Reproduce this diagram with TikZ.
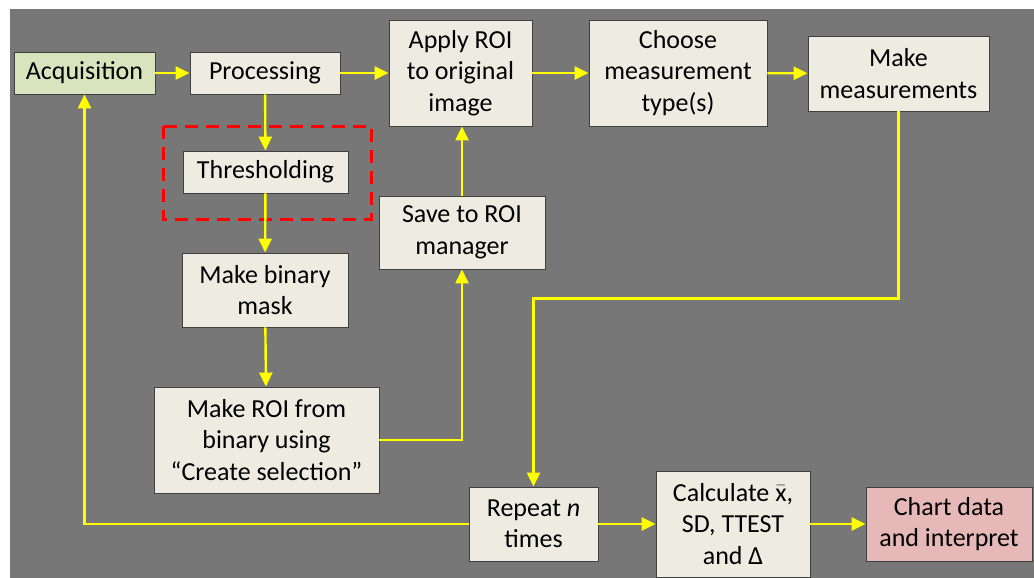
\documentclass[tikz,border=0pt]{standalone}
\usepackage{fontspec}
\setmainfont{Carlito}
\usetikzlibrary{arrows.meta}
\definecolor{slide}{RGB}{119,119,119}
\definecolor{boxfill}{RGB}{238,236,225}
\definecolor{acqfill}{RGB}{215,228,189}
\definecolor{chartfill}{RGB}{230,185,184}
\definecolor{arrowyellow}{RGB}{255,255,0}
\newcommand{\bx}[7]{
\node[#1, minimum width=#5pt-#3pt, minimum height=#6pt-#4pt] (#2) at ({(#3+#5)/2},{(#4+#6)/2}) {#7};
}
\newcommand{\xbar}{\ensuremath{\bar{\hbox{x}}}}
\tikzset{
stage/.style={draw=black!75, line width=0.9pt, fill=boxfill, align=center, inner sep=0pt,
  font=\fontsize{26}{31.5}\selectfont},
flow/.style={arrowyellow, line width=2.4pt, -{Triangle[length=14pt,width=13pt]}}
}
\begin{document}
\begin{tikzpicture}[x=1pt,y=-1pt]

\useasboundingbox (0,0) rectangle (1034,578);
\fill[white] (0,0) rectangle (1034,578);
\fill[slide] (10,9) rectangle (1034,578);

\draw[red, line width=3pt, dash pattern=on 13pt off 8pt] (163,126) rectangle (371,219);

\bx{stage, fill=acqfill}{acq}{14}{52}{155}{94}{Acquisition}
\bx{stage}{proc}{190}{52}{340}{94}{Processing}
\bx{stage}{apply}{389}{20}{532}{126}{Apply ROI\\to original\\image}
\bx{stage}{choose}{589}{20}{767}{126}{Choose\\measurement\\type(s)}
\bx{stage}{meas}{808}{36}{989}{111}{Make\\measurements}
\bx{stage}{thresh}{183}{151}{348}{193}{Thresholding}
\bx{stage}{save}{379}{196}{545}{269}{Save to ROI\\manager}
\bx{stage}{binary}{182}{253}{348}{327}{Make binary\\mask}
\bx{stage}{roi}{154}{387}{379}{493}{Make ROI from\\binary using\\``Create selection''}
\bx{stage}{repeat}{469}{487}{598}{561}{Repeat \textit{n}\\times}
\bx{stage}{calc}{656}{471}{810}{577}{Calculate \xbar,\\SD, TTEST\\and Δ}
\bx{stage, fill=chartfill}{chart}{866}{487}{1032}{561}{Chart data\\and interpret}

\draw[flow] (acq) -- (proc);
\draw[flow] (proc) -- (apply);
\draw[flow] (apply) -- (choose);
\draw[flow] (choose) -- (meas);
\draw[flow] (proc) -- (thresh);
\draw[flow] (thresh) -- (binary);
\draw[flow] (binary) -- (roi);
\draw[flow] (roi.east) -| (save.south);
\draw[flow] (save.north) -- (save.north |- apply.south);
\draw[flow] (meas.south) -- ++(0,187) -| (repeat.north);
\draw[flow] (repeat.west) -| (acq.south);
\draw[flow] (repeat) -- (calc);
\draw[flow] (calc) -- (chart);

\end{tikzpicture}
\end{document}
